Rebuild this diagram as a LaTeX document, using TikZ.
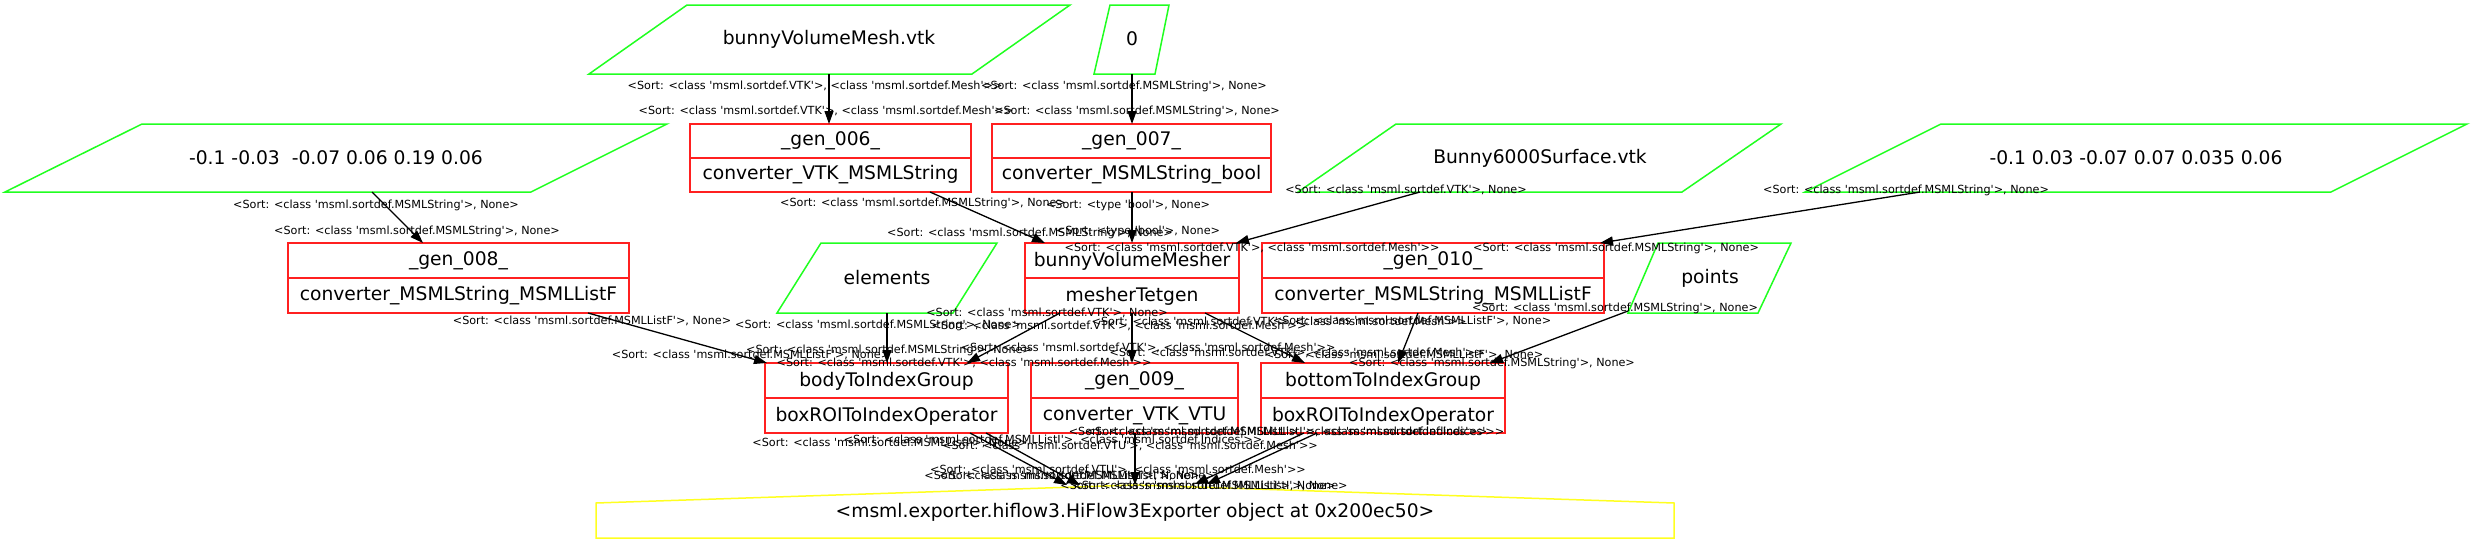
\documentclass[tikz,border=0pt]{standalone}
\usepackage{fontspec}
\setmainfont{DejaVu Sans}[Ligatures=TeXOff]
\usetikzlibrary{arrows.meta}
\definecolor{gvred}{HTML}{FF2020}
\definecolor{gvgreen}{HTML}{20FF20}
\definecolor{gvyellow}{HTML}{FFFF20}
\newcommand\mcls[1]{<class 'msml.sortdef.#1'>}
\newcommand\lVM{<Sort: \mcls{VTK}, \mcls{Mesh}>}
\newcommand\lSN{<Sort: \mcls{MSMLString}, None>}
\newcommand\lBN{<Sort: <type 'bool'>, None>}
\newcommand\lVN{<Sort: \mcls{VTK}, None>}
\newcommand\lFN{<Sort: \mcls{MSMLListF}, None>}
\newcommand\lIN{<Sort: \mcls{MSMLListI}, None>}
\newcommand\lII{<Sort: \mcls{MSMLListI}, \mcls{Indices}>}
\newcommand\lUM{<Sort: \mcls{VTU}, \mcls{Mesh}>}
\begin{document}
\begin{tikzpicture}[x=1pt,y=-1pt,
  rec/.style={draw=gvred, line width=1.5pt, inner sep=0pt, minimum height=69pt},
  para/.style={draw=gvgreen, line width=1.5pt},
  house/.style={draw=gvyellow, line width=1.5pt},
  nt/.style={font=\fontsize{18.7}{21}\selectfont, inner sep=0pt},
  lab/.style={font=\fontsize{11.2}{13}\selectfont, inner sep=0pt},
  edge/.style={draw=black, line width=1.3pt, -{Triangle[length=13pt,width=9pt]}}]
\useasboundingbox (0,0) rectangle (2472,549);

% ---- parallelogram inputs
\draw[para] (687,5) -- (1070,5) -- (972,74) -- (589,74) -- cycle;
\node[nt] (bvm) at (829,39) {bunnyVolumeMesh.vtk};
\draw[para] (1110,5) -- (1169,5) -- (1155,74) -- (1094,74) -- cycle;
\node[nt] (zero) at (1132,39) {0};
\draw[para] (142,124) -- (667,124) -- (531,192) -- (5,192) -- cycle;
\node[nt] (pa) at (336,158) {-0.1 -0.03\ \ -0.07 0.06 0.19 0.06};
\draw[para] (1396,124) -- (1781,124) -- (1682,192) -- (1298,192) -- cycle;
\node[nt] (bsurf) at (1540,158) {Bunny6000Surface.vtk};
\draw[para] (1941,124) -- (2467,124) -- (2331,192) -- (1805,192) -- cycle;
\node[nt] (pb) at (2136,158) {-0.1 0.03 -0.07 0.07 0.035 0.06};
\draw[para] (821,243) -- (997,243) -- (953,313) -- (777,313) -- cycle;
\node[nt] (elem) at (887,278) {elements};
\draw[para] (1658,243) -- (1791,243) -- (1758,313) -- (1628,313) -- cycle;
\node[nt] (pts) at (1710,278) {points};

% ---- record boxes
\node[rec, minimum width=281pt, minimum height=68pt] (g6) at (830.5,158) {};
\node[rec, minimum width=279pt, minimum height=68pt] (g7) at (1131.5,158) {};
\node[rec, minimum width=341pt, minimum height=70pt] (g8) at (458.5,278) {};
\node[rec, minimum width=214pt, minimum height=70pt] (mesher) at (1132,278) {};
\node[rec, minimum width=342pt, minimum height=70pt] (g10) at (1433,278) {};
\node[rec, minimum width=243pt, minimum height=70pt] (body) at (886.5,398) {};
\node[rec, minimum width=207pt, minimum height=70pt] (g9) at (1134.5,398) {};
\node[rec, minimum width=244pt, minimum height=70pt] (bottom) at (1383,398) {};
\foreach \n in {g6,g7,g8,mesher,g10,body,g9,bottom}
  \draw[gvred, line width=1.5pt] (\n.west) -- (\n.east);

\node[nt] (g6a) at (830.5,141) {\_gen\_006\_};
\node[nt] (g6b) at (830.5,175) {converter\_VTK\_MSMLString};
\node[nt] (g7a) at (1131.5,141) {\_gen\_007\_};
\node[nt] (g7b) at (1131.5,175) {converter\_MSMLString\_bool};
\node[nt] (g8a) at (458.5,261) {\_gen\_008\_};
\node[nt] (g8b) at (458.5,296) {converter\_MSMLString\_MSMLListF};
\node[nt] (mesha) at (1132,261) {bunnyVolumeMesher};
\node[nt] (meshb) at (1132,296) {mesherTetgen};
\node[nt] (g10a) at (1433,261) {\_gen\_010\_};
\node[nt] (g10b) at (1433,296) {converter\_MSMLString\_MSMLListF};
\node[nt] (bodya) at (886.5,381) {bodyToIndexGroup};
\node[nt] (bodyb) at (886.5,416) {boxROIToIndexOperator};
\node[nt] (g9a) at (1134.5,381) {\_gen\_009\_};
\node[nt] (g9b) at (1134.5,416) {converter\_VTK\_VTU};
\node[nt] (bota) at (1383,381) {bottomToIndexGroup};
\node[nt] (botb) at (1383,416) {boxROIToIndexOperator};

% ---- exporter (house)
\draw[house] (596,538) -- (596,503) -- (1135,485) -- (1674,503) -- (1674,538) -- cycle;
\node[nt] (exp) at (1135,512) {<msml.exporter.hiflow3.HiFlow3Exporter object at 0x200ec50>};

% ---- edge end points
\coordinate (e1t) at (829,74);   \coordinate (e1h) at (829,124);
\coordinate (e2t) at (1132,74);  \coordinate (e2h) at (1132,124);
\coordinate (e3t) at (372,192);  \coordinate (e3h) at (423,243);
\coordinate (e4t) at (930,192);  \coordinate (e4h) at (1045,243);
\coordinate (e5t) at (1132,192); \coordinate (e5h) at (1132,243);
\coordinate (e6t) at (1420,192); \coordinate (e6h) at (1236,243);
\coordinate (e7t) at (1920,192); \coordinate (e7h) at (1600,243);
\coordinate (e8t) at (588,313);  \coordinate (e8h) at (767,363);
\coordinate (e9t) at (887,313);  \coordinate (e9h) at (887,363);
\coordinate (e10t) at (1060,313); \coordinate (e10h) at (967,363);
\coordinate (e11t) at (1132,313); \coordinate (e11h) at (1132,363);
\coordinate (e12t) at (1205,313); \coordinate (e12h) at (1305,363);
\coordinate (e13t) at (1418,313); \coordinate (e13h) at (1398,363);
\coordinate (e14t) at (1628,311); \coordinate (e14h) at (1490,363);
\coordinate (e15t) at (970,433);  \coordinate (e15h) at (1067,485);
\coordinate (e16t) at (986,433);  \coordinate (e16h) at (1080,485);
\coordinate (e17t) at (1135,433); \coordinate (e17h) at (1135,485);
\coordinate (e18t) at (1304,433); \coordinate (e18h) at (1195,484);
\coordinate (e19t) at (1317,433); \coordinate (e19h) at (1207,484);
\foreach \i in {1,...,19} \draw[edge] (e\i t) -- (e\i h);

% ---- edge labels (tail / head)
\node[lab] (l1t) at (815,86) {\lVM};   \node[lab] (l1h) at (826,111) {\lVM};
\node[lab] (l2t) at (1124,86) {\lSN};  \node[lab] (l2h) at (1137,111) {\lSN};
\node[lab] (l3t) at (376,205) {\lSN};  \node[lab] (l3h) at (417,231) {\lSN};
\node[lab] (l4t) at (923,203) {\lSN};  \node[lab] (l4h) at (1030,233) {\lSN};
\node[lab] (l5t) at (1128,205) {\lBN}; \node[lab] (l5h) at (1138,231) {\lBN};
\node[lab] (l6t) at (1406,190) {\lVN}; \node[lab] (l6h) at (1252,248) {\lVM};
\node[lab] (l7t) at (1906,190) {\lSN}; \node[lab] (l7h) at (1616,248) {\lSN};
\node[lab] (l8t) at (592,321) {\lFN};  \node[lab] (l8h) at (751,355) {\lFN};
\node[lab] (l9t) at (878,325) {\lSN};  \node[lab] (l9h) at (889,350) {\lSN};
\node[lab] (l10t) at (1047,313) {\lVN}; \node[lab] (l10h) at (964,363) {\lVM};
\node[lab] (l11t) at (1119,326) {\lVM}; \node[lab] (l11h) at (1148,348) {\lVM};
\node[lab] (l12t) at (1279,322) {\lVM}; \node[lab] (l12h) at (1297,353) {\lVM};
\node[lab] (l13t) at (1412,321) {\lFN}; \node[lab] (l13h) at (1404,355) {\lFN};
\node[lab] (l14t) at (1615,308) {\lSN}; \node[lab] (l14h) at (1492,363) {\lSN};
\node[lab] (l15t) at (890,443) {\lIN};  \node[lab] (l15h) at (1062,476) {\lIN};
\node[lab] (l16t) at (1053,440) {\lII}; \node[lab] (l16h) at (1077,476) {\lIN};
\node[lab] (l17t) at (1130,446) {\lUM}; \node[lab] (l17h) at (1118,470) {\lUM};
\node[lab] (l18t) at (1278,432) {\lII}; \node[lab] (l18h) at (1198,486) {\lIN};
\node[lab] (l19t) at (1295,432) {\lII}; \node[lab] (l19h) at (1210,486) {\lIN};
\end{tikzpicture}
\end{document}
